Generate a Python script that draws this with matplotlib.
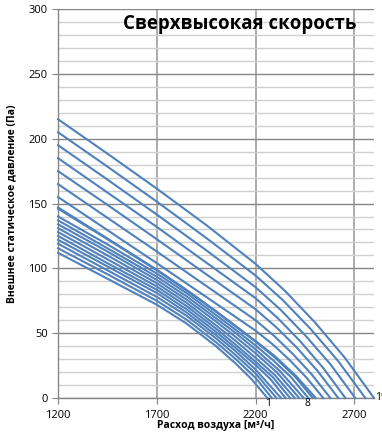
import matplotlib
matplotlib.use('Agg')
import matplotlib.pyplot as plt
from matplotlib.ticker import MultipleLocator

plt.rcParams['font.family'] = ['Open Sans', 'DejaVu Sans']

# расход воздуха (м3/ч) и внешнее статическое давление (Па), скорости 1..19
flow = [
    [1200, 1450, 1700, 1850, 2000, 2100, 2180, 2260],
    [1200, 1450, 1700, 1850, 2000, 2100, 2200, 2283],
    [1200, 1450, 1700, 1850, 2000, 2100, 2200, 2306],
    [1200, 1450, 1700, 1850, 2000, 2100, 2200, 2329],
    [1200, 1450, 1700, 1850, 2000, 2100, 2200, 2276, 2352],
    [1200, 1450, 1700, 1850, 2000, 2100, 2200, 2288, 2375],
    [1200, 1450, 1700, 1850, 2000, 2100, 2200, 2299, 2398],
    [1200, 1450, 1700, 1850, 2000, 2100, 2200, 2310, 2421],
    [1200, 1450, 1700, 1850, 2000, 2100, 2200, 2322, 2444],
    [1200, 1450, 1700, 1850, 2000, 2100, 2200, 2290, 2380, 2467],
    [1200, 1450, 1700, 1850, 2000, 2100, 2200, 2300, 2400, 2490],
    [1200, 1450, 1700, 1850, 2000, 2100, 2200, 2300, 2405, 2505],
    [1200, 1450, 1700, 1950, 2200, 2286, 2372, 2457, 2543],
    [1200, 1450, 1700, 1950, 2200, 2295, 2390, 2484, 2579],
    [1200, 1450, 1700, 1950, 2200, 2305, 2410, 2514, 2619],
    [1200, 1450, 1700, 1950, 2200, 2314, 2428, 2541, 2655],
    [1200, 1450, 1700, 1950, 2200, 2326, 2452, 2579, 2705],
    [1200, 1450, 1700, 1950, 2200, 2339, 2478, 2617, 2756],
    [1200, 1450, 1700, 1950, 2200, 2350, 2500, 2650, 2800],
]
pressure = [
    [112, 92, 72, 57.5, 40, 26.5, 14.5, 0],
    [115.5, 95.5, 75, 60.5, 43, 30, 15.5, 0],
    [119, 98.5, 78, 63.5, 46, 33, 19, 0],
    [122, 101.5, 81, 66, 48.5, 36, 22, 0],
    [125, 104, 83.5, 68.5, 51, 38.5, 25.5, 14.5, 0],
    [128, 107, 86, 71, 53.5, 41, 28, 16, 0],
    [131, 110, 88.5, 73.5, 56, 44, 31, 17.5, 0],
    [134, 113, 91, 76, 59, 47, 34.5, 19.5, 0],
    [137, 115.5, 93.5, 78.5, 61.5, 50, 37.5, 21, 0],
    [140, 118.5, 96, 81, 64, 52.5, 40.5, 29, 16, 0],
    [146, 122.5, 98.5, 83, 66.5, 55, 43.5, 31, 16.5, 0],
    [147, 123, 99, 83.5, 67, 55.5, 44, 32, 17, 0],
    [155, 129.5, 104, 78, 52, 41.5, 29.4, 15.9, 0],
    [165, 139, 113, 86.5, 60, 47.8, 33.8, 18.3, 0],
    [175, 149, 122.5, 95.5, 68.5, 54.6, 38.7, 20.9, 0],
    [185, 158.5, 132, 104.5, 77, 61.4, 43.5, 23.5, 0],
    [195, 168.5, 141.5, 114, 85.5, 68.2, 48.3, 26.1, 0],
    [205, 178.5, 151.5, 123.5, 94.5, 75.4, 53.4, 28.8, 0],
    [215, 188.5, 161.5, 133.5, 103.5, 82.5, 58.5, 31.5, 0],
]
curve_labels = ['1', '8', '19']
label_x = [2265, 2465, 2805]
label_y = [-4.5, -4.5, 0]

x_ticks = [1200, 1700, 2200, 2700]

fig = plt.figure(figsize=(3.82, 4.34), dpi=100)
ax = fig.add_axes([0.152, 0.083, 0.827, 0.896])

for q, p in zip(flow, pressure):
    ax.plot(q, p, color='#4F81BD', linewidth=1.5, zorder=3, clip_on=False,
            solid_joinstyle='round')

ax.set_xlim(1200, 2800)
ax.set_ylim(0, 300)
ax.set_xticks(x_ticks)
ax.yaxis.set_major_locator(MultipleLocator(50))
ax.yaxis.set_minor_locator(MultipleLocator(10))

ax.grid(axis='y', which='major', color='#868686', linewidth=1.0)
ax.grid(axis='y', which='minor', color='#D0D0D0', linewidth=1.0)
ax.grid(axis='x', which='major', color='#A6A6A6', linewidth=1.3)
ax.set_axisbelow(True)

for s in ['top', 'right']:
    ax.spines[s].set_visible(False)
for s in ['left', 'bottom']:
    ax.spines[s].set_color('#868686')
    ax.spines[s].set_linewidth(1.0)

ax.tick_params(axis='both', which='major', direction='out', length=4,
               color='#868686', labelsize=8, labelcolor='#000000')
ax.tick_params(axis='y', which='minor', length=0)
ax.tick_params(axis='x', pad=5)

for t, lx, ly in zip(curve_labels, label_x, label_y):
    ax.text(lx, ly, t, fontsize=7.5, ha='center' if t != '19' else 'left',
            va='center', clip_on=False)

ax.text(0.576, 0.961, 'Сверхвысокая скорость', transform=ax.transAxes,
        fontsize=13.4, fontweight='bold', ha='center', va='center')

ax.set_xlabel('Расход воздуха [м³/ч]', fontsize=7.5, fontweight='bold', labelpad=-1)
ax.set_ylabel('Внешнее статическое давление (Па)', fontsize=7.5,
              fontweight='bold', labelpad=8)

plt.savefig('out.png', dpi=100)
